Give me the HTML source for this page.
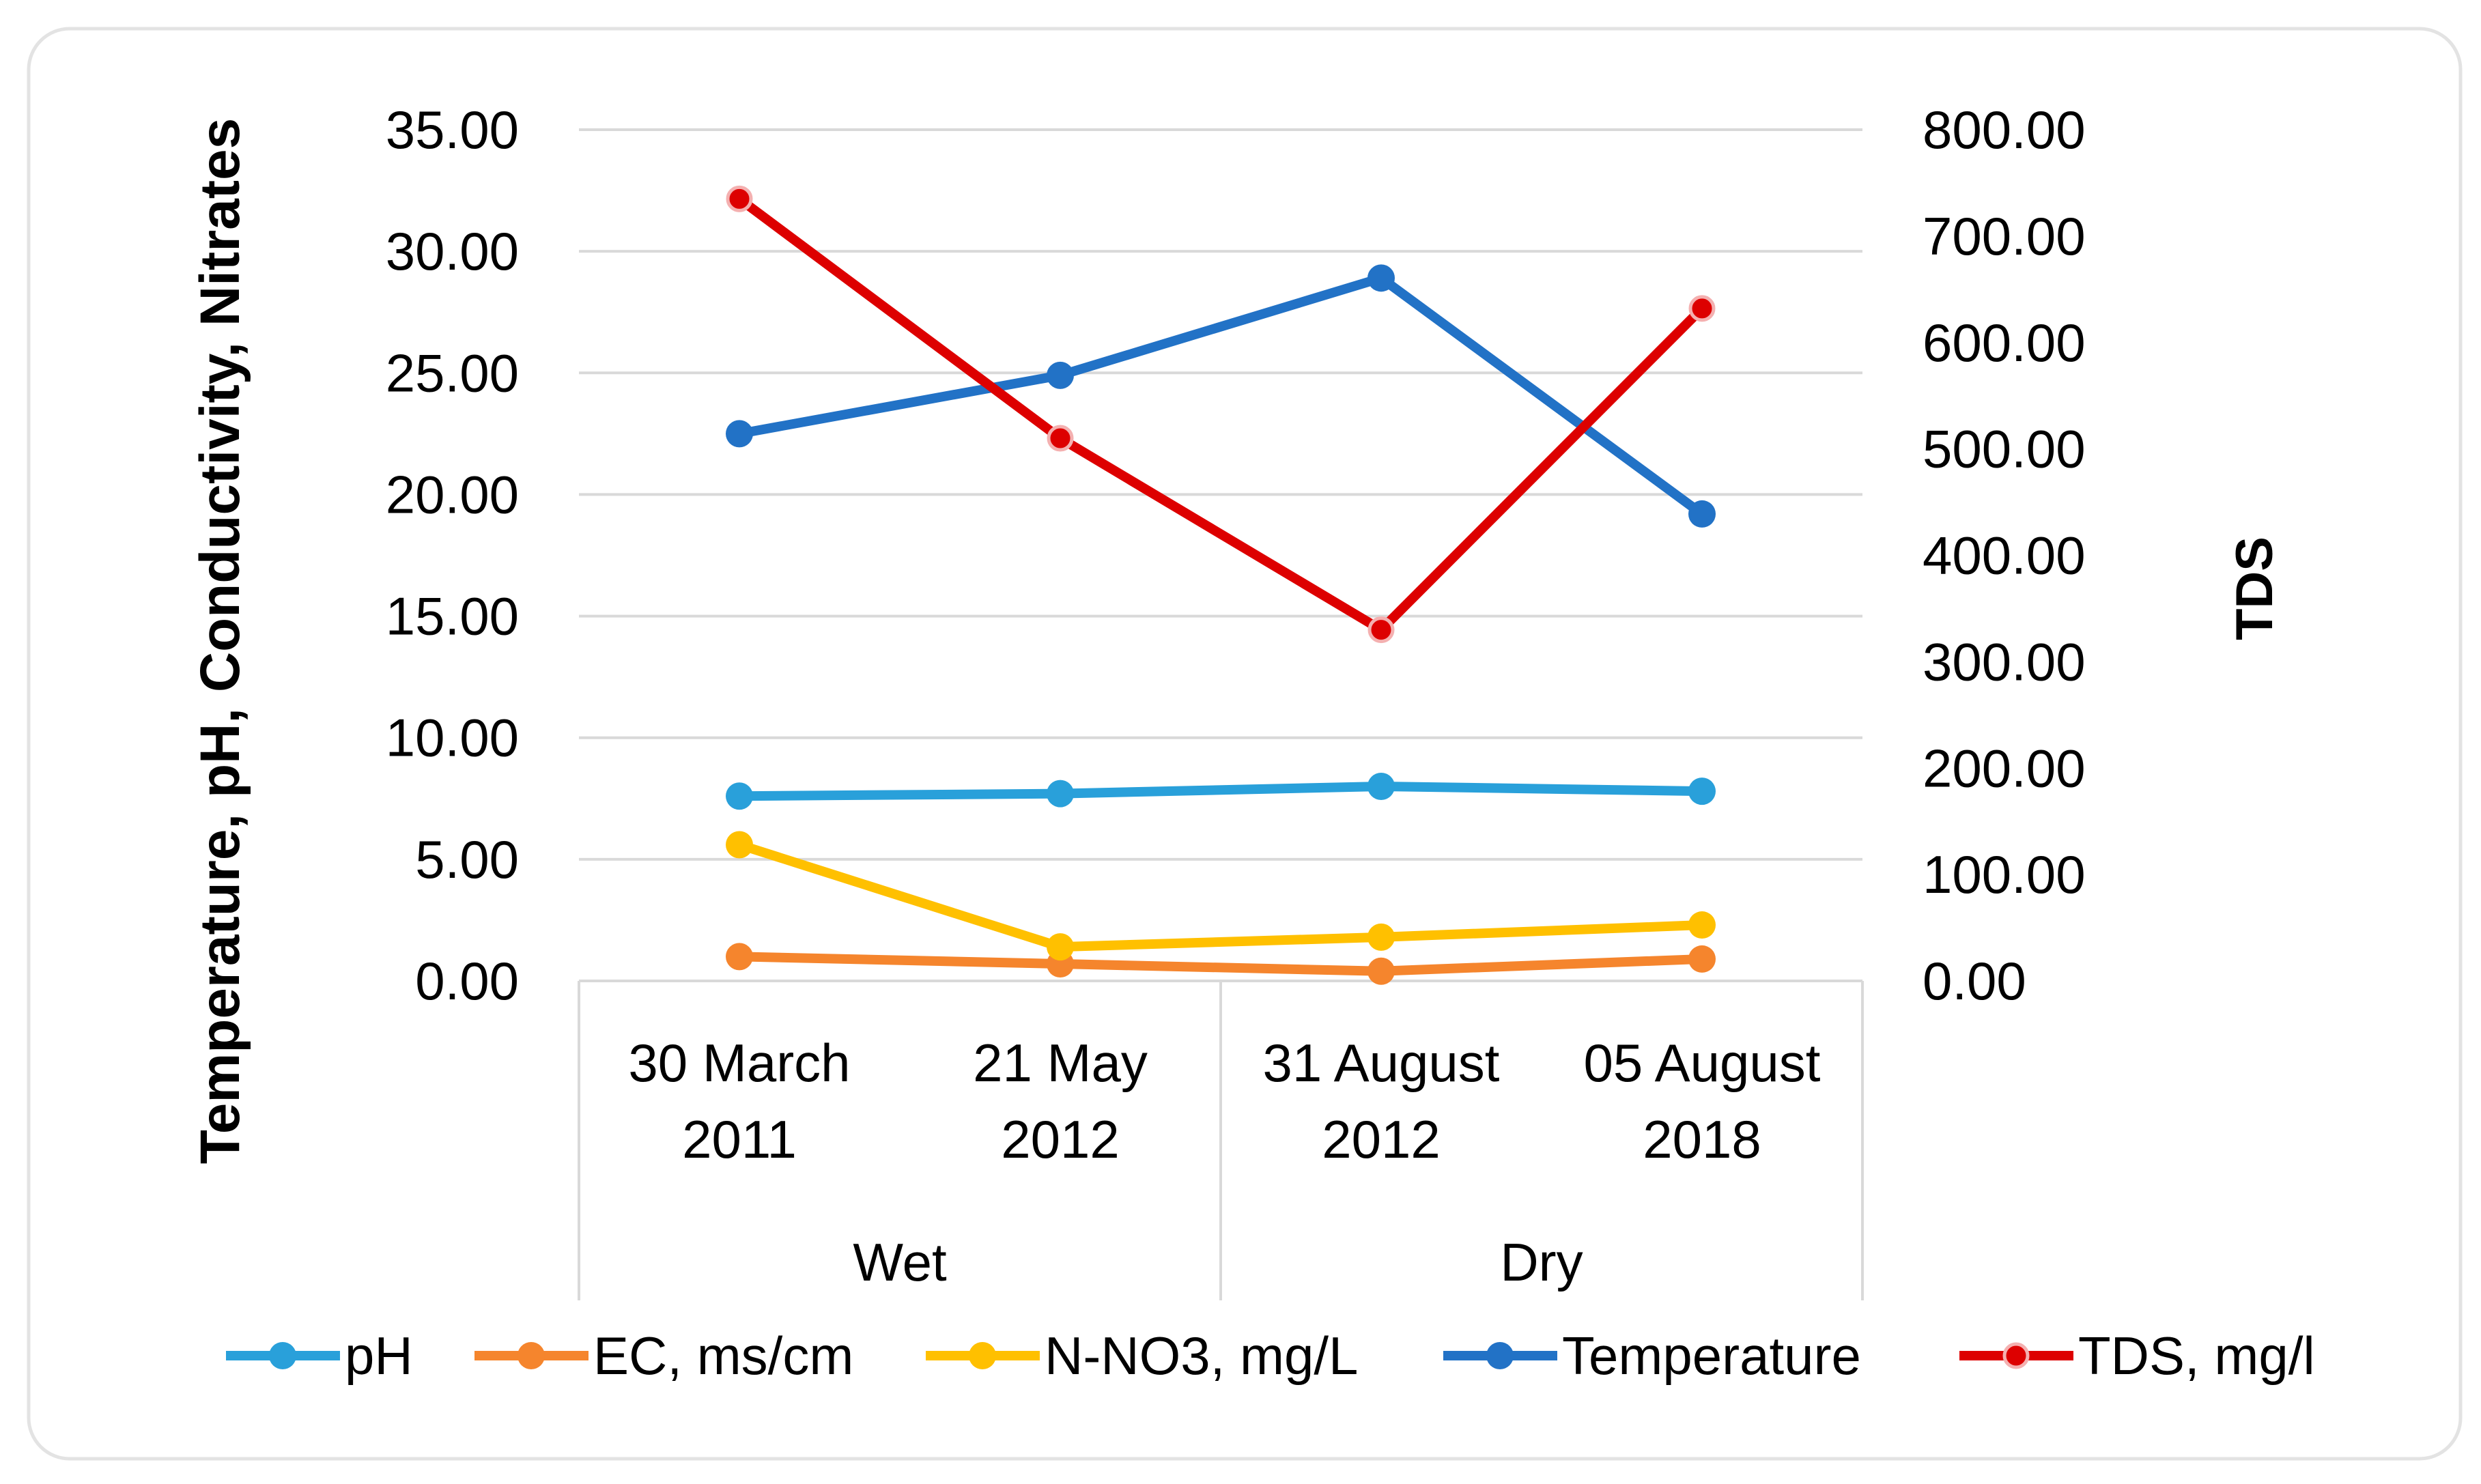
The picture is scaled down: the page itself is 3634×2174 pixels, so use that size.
<!DOCTYPE html>
<html><head><meta charset="utf-8"><style>
html,body{margin:0;padding:0;background:#fff;}
svg{display:block;font-family:"Liberation Sans",sans-serif;}
</style></head><body>
<svg id="chart" width="3634" height="2174" viewBox="0 0 3634 2174">
<rect x="42" y="42" width="3562" height="2095" rx="60" fill="#fff" stroke="#e3e3e3" stroke-width="5"/>
<g id="grid"></g><g id="axes"></g><g id="series"></g><g id="legend"></g>
<text transform="translate(350,939) rotate(-90)" text-anchor="middle" font-weight="bold" font-size="82" fill="#000">Temperature, pH, Conductivity, Nitrates</text>
<text transform="translate(3328,862) rotate(-90)" text-anchor="middle" font-weight="bold" font-size="76" fill="#000">TDS</text>
</svg>
<script>
const categories=["30 March|2011","21 May|2012","31 August|2012","05 August|2018"];
const seasons=["Wet","Dry"];
const leftTicks=["0.00","5.00","10.00","15.00","20.00","25.00","30.00","35.00"];
const rightTicks=["0.00","100.00","200.00","300.00","400.00","500.00","600.00","700.00","800.00"];
const phValues=[7.6,7.7,8.0,7.8];
const ecValues=[1.0,0.7,0.4,0.9];
const no3Values=[5.6,1.4,1.8,2.3];
const tempValues=[22.5,24.9,28.9,19.2];
const tdsValues=[735,510,330,632];
const NS="http://www.w3.org/2000/svg";
const X0=848,X1=2728,Y0=1437,Y1=190;
const xc=i=>X0+(X1-X0)*(i+0.5)/categories.length;
const yL=v=>Y0-(v/35)*(Y0-Y1);
const yR=v=>Y0-(v/800)*(Y0-Y1);
function mk(t,a,p){const e=document.createElementNS(NS,t);for(const k in a)e.setAttribute(k,a[k]);p.appendChild(e);return e;}
const grid=document.getElementById('grid'),axes=document.getElementById('axes'),ser=document.getElementById('series'),leg=document.getElementById('legend');
leftTicks.forEach((t,i)=>{const v=parseFloat(t);const y=yL(v);
 if(v>0){const g=mk('line',{x1:X0,x2:X1,y1:y,y2:y,stroke:'#d9d9d9','stroke-width':4},grid);
 
 }
 const tx=mk('text',{x:760,y:y+27,'text-anchor':'end','font-size':78,fill:'#000'},axes);tx.textContent=t;
 
 });
rightTicks.forEach(t=>{const y=yR(parseFloat(t));
 const tx=mk('text',{x:2816,y:y+27,'font-size':78,fill:'#000'},axes);tx.textContent=t;
 
 });
const base=mk('line',{x1:X0,x2:X1,y1:Y0,y2:Y0,stroke:'#d9d9d9','stroke-width':4},axes);


[0,2,4].forEach(k=>{const x=X0+(X1-X0)*k/4;const l=mk('line',{x1:x,x2:x,y1:Y0,y2:1905,stroke:'#d9d9d9','stroke-width':4},axes);
 
 });
categories.forEach((c,i)=>{const p=c.split('|');
 [1557,1669].forEach((y,j)=>{const tx=mk('text',{x:xc(i),y:y+27,'text-anchor':'middle','font-size':78,fill:'#000'},axes);tx.textContent=p[j];
 
 });});
seasons.forEach((s,i)=>{const tx=mk('text',{x:X0+(X1-X0)*(i*2+1)/4,y:1849+27,'text-anchor':'middle','font-size':78,fill:'#000'},axes);tx.textContent=s;
 
 });
const series=[
 {n:'pH',v:phValues,c:'#29a0da',f:yL,key:'ph'},
 {n:'EC, ms/cm',v:ecValues,c:'#f5852d',f:yL,key:'ec'},
 {n:'N-NO3, mg/L',v:no3Values,c:'#ffc000',f:yL,key:'no3'},
 {n:'Temperature',v:tempValues,c:'#2272c6',f:yL,key:'temperature'},
 {n:'TDS, mg/l',v:tdsValues,c:'#dd0000',f:yR,key:'tds',ring:true}];
series.forEach(s=>{const g=mk('g',{},ser);
 
 
 const pts=s.v.map((v,i)=>xc(i)+','+s.f(v)).join(' ');
 const pl=mk('polyline',{points:pts,fill:'none',stroke:s.c,'stroke-width':14,'stroke-linejoin':'round'},g);
 
 
 s.v.forEach((v,i)=>{const m=mk('circle',{cx:xc(i),cy:s.f(v),r:s.ring?17:20,fill:s.c,stroke:s.ring?'#f4b0b0':'none','stroke-width':s.ring?5:0},g);
 
 });});
const legX=[331,695,1356,2114,2870];
series.forEach((s,i)=>{const g=mk('g',{},leg);
 
 
 const x=legX[i],y=1986;
 mk('line',{x1:x,x2:x+167,y1:y,y2:y,stroke:s.c,'stroke-width':14},g);
 mk('circle',{cx:x+83,cy:y,r:s.ring?17:20,fill:s.c,stroke:s.ring?'#f4b0b0':'none','stroke-width':s.ring?5:0},g);
 const tx=mk('text',{x:x+174,y:y+27,'font-size':78,fill:'#000'},g);tx.textContent=s.n;});
</script>
</body></html>
